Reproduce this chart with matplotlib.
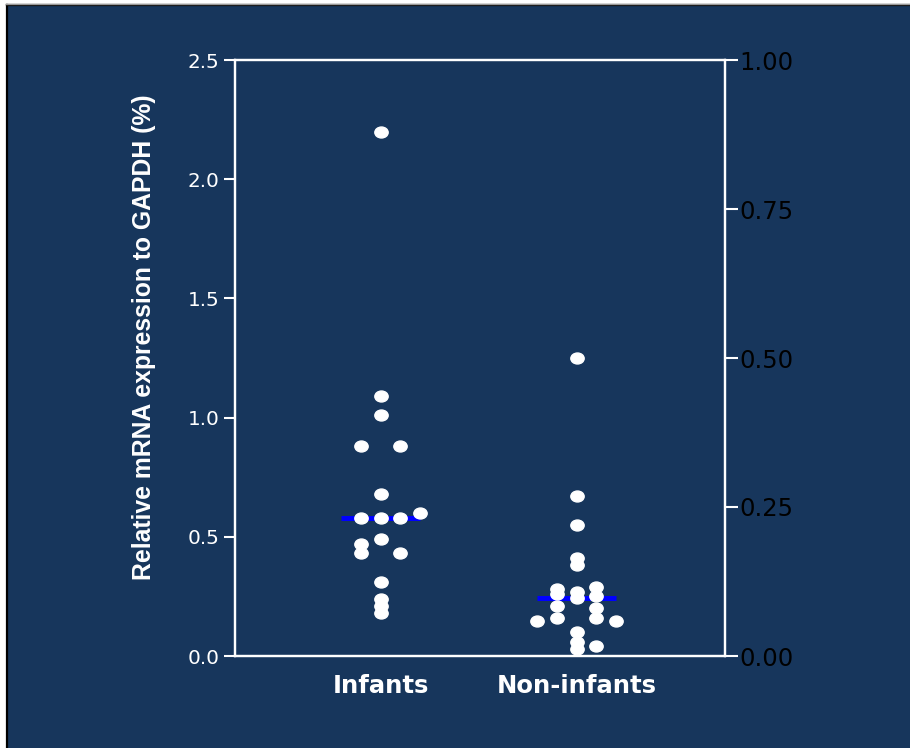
import numpy as np
import matplotlib
matplotlib.use('Agg')
import matplotlib.pyplot as plt
from matplotlib.path import Path
from matplotlib.patches import Rectangle
from matplotlib.lines import Line2D
from matplotlib.transforms import Affine2D

# values (relative mRNA expression, %)
groups = ['Infants', 'Non-infants']
infants = [2.20, 1.09, 1.01, 0.88, 0.88, 0.68, 0.58, 0.58, 0.58, 0.60,
           0.49, 0.47, 0.43, 0.43, 0.31, 0.24, 0.21, 0.18]
non_infants = [1.25, 0.67, 0.55, 0.41, 0.38, 0.29, 0.28, 0.26, 0.27, 0.245,
               0.25, 0.21, 0.20, 0.16, 0.16, 0.145, 0.145, 0.10, 0.06, 0.04, 0.03]

# dot-plot column of each point (layout only)
infants_col = [0, 0, 0, -1, 1, 0, -1, 0, 1, 2, 0, -1, -1, 1, 0, 0, 0, 0]
non_infants_col = [0, 0, 0, 0, 0, 1, -1, -1, 0, 0, 1, -1, 1, -1, 1, -2, 2, 0, 0, 1, 0]

left_ticks = [0.0, 0.5, 1.0, 1.5, 2.0, 2.5]
right_ticks = [0.00, 0.25, 0.50, 0.75, 1.00]

navy = '#17365c'
col_step = 0.1
med_half = 0.2

fig = plt.figure(figsize=(9.1, 7.48), dpi=100, facecolor='white')

# navy panel with dark border on top/left like the screenshot
W, H = 910, 748
fig.patches.append(Rectangle((8 / W, 0), 1, 1 - 6 / H, transform=fig.transFigure,
                             facecolor=navy, edgecolor='none', zorder=-10))
fig.lines.append(Line2D([7 / W, 7 / W], [0, 1 - 5 / H], transform=fig.transFigure,
                        color='black', lw=1.6))
fig.lines.append(Line2D([7 / W, 1], [1 - 5 / H, 1 - 5 / H], transform=fig.transFigure,
                        color='black', lw=1.6))
fig.lines.append(Line2D([6 / W, 1], [1 - 3.5 / H, 1 - 3.5 / H], transform=fig.transFigure,
                        color='#9a9a9a', lw=1.0))

ax = fig.add_axes([235 / W, 92 / H, 490 / W, 596 / H])
ax.set_facecolor('none')

# slightly flattened round marker
ell = Path.unit_circle().transformed(Affine2D().scale(1.0, 0.82))

for i, (vals, cols) in enumerate([(infants, infants_col), (non_infants, non_infants_col)]):
    xc = i + 1
    xs = xc + np.array(cols) * col_step
    ax.plot(xs, vals, linestyle='none', marker=ell, markersize=9.6,
            markerfacecolor='white', markeredgecolor='white', zorder=3, clip_on=False)
    med = np.median(vals)
    ax.plot([xc - med_half, xc + med_half], [med, med], color='#0000ff', lw=3.6,
            solid_capstyle='butt', zorder=2)

ax.set_xlim(0.257, 2.757)
ax.set_ylim(0, 2.5)
ax.set_xticks([1, 2])
ax.set_xticklabels(groups, fontfamily='DejaVu Sans', fontweight='bold',
                   fontsize=17.5, color='white')
ax.tick_params(axis='x', length=0, pad=13)
ax.set_yticks(left_ticks)
ax.set_yticklabels([f'{t:.1f}' for t in left_ticks], fontfamily='DejaVu Sans',
                   fontsize=14.4, color='white')
ax.tick_params(axis='y', length=8, width=1.5, color='white', pad=3, direction='out')

for s in ['left', 'right', 'top', 'bottom']:
    ax.spines[s].set_color('white')
    ax.spines[s].set_linewidth(1.6)

ax.set_ylabel('Relative mRNA expression to GAPDH (%)', fontfamily='Liberation Sans',
              fontweight='bold', fontsize=17.8, color='white')
ax.yaxis.set_label_coords(-0.161, 0.535)

ax2 = ax.twinx()
ax2.set_ylim(0, 1)
ax2.set_yticks(right_ticks)
ax2.set_yticklabels([f'{t:.2f}' for t in right_ticks], fontfamily='DejaVu Sans',
                    fontsize=17.5, color='black')
ax2.tick_params(axis='y', length=9, width=1.5, color='white', pad=1, direction='out')
for s in ['left', 'right', 'top', 'bottom']:
    ax2.spines[s].set_color('white')
    ax2.spines[s].set_linewidth(1.6)

fig.savefig('out.png', dpi=100, facecolor=fig.get_facecolor())
